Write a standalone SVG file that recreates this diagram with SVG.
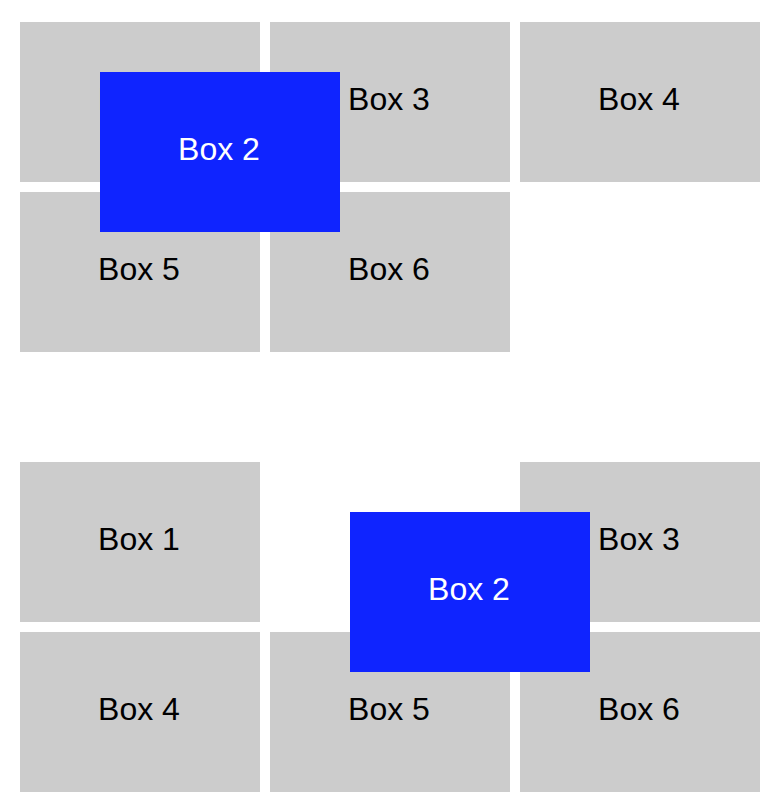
<svg xmlns="http://www.w3.org/2000/svg" width="782" height="810" viewBox="0 0 782 810">
<style>
.g{fill:#cccccc}
.b{fill:#0f24ff}
text{font-family:"Liberation Sans",Arial,sans-serif;font-size:32px;text-anchor:middle}
.t{fill:#000}
.w{fill:#fff}
</style>
<rect width="782" height="810" fill="#fff"/>
<g id="top">
<g id="t-box1"><rect class="g" x="20" y="22" width="240" height="160"/><text class="t" x="139" y="110">Box 1</text></g>
<g id="t-box3"><rect class="g" x="270" y="22" width="240" height="160"/><text class="t" x="389" y="110">Box 3</text></g>
<g id="t-box4"><rect class="g" x="520" y="22" width="240" height="160"/><text class="t" x="639" y="110">Box 4</text></g>
<g id="t-box5"><rect class="g" x="20" y="192" width="240" height="160"/><text class="t" x="139" y="280">Box 5</text></g>
<g id="t-box6"><rect class="g" x="270" y="192" width="240" height="160"/><text class="t" x="389" y="280">Box 6</text></g>
<g id="t-box2"><rect class="b" x="100" y="72" width="240" height="160"/><text class="w" x="219" y="160">Box 2</text></g>
</g>
<g id="bottom">
<g id="b-box1"><rect class="g" x="20" y="462" width="240" height="160"/><text class="t" x="139" y="550">Box 1</text></g>
<g id="b-box3"><rect class="g" x="520" y="462" width="240" height="160"/><text class="t" x="639" y="550">Box 3</text></g>
<g id="b-box4"><rect class="g" x="20" y="632" width="240" height="160"/><text class="t" x="139" y="720">Box 4</text></g>
<g id="b-box5"><rect class="g" x="270" y="632" width="240" height="160"/><text class="t" x="389" y="720">Box 5</text></g>
<g id="b-box6"><rect class="g" x="520" y="632" width="240" height="160"/><text class="t" x="639" y="720">Box 6</text></g>
<g id="b-box2"><rect class="b" x="350" y="512" width="240" height="160"/><text class="w" x="469" y="600">Box 2</text></g>
</g>
<g id="connectors"></g>
</svg>
